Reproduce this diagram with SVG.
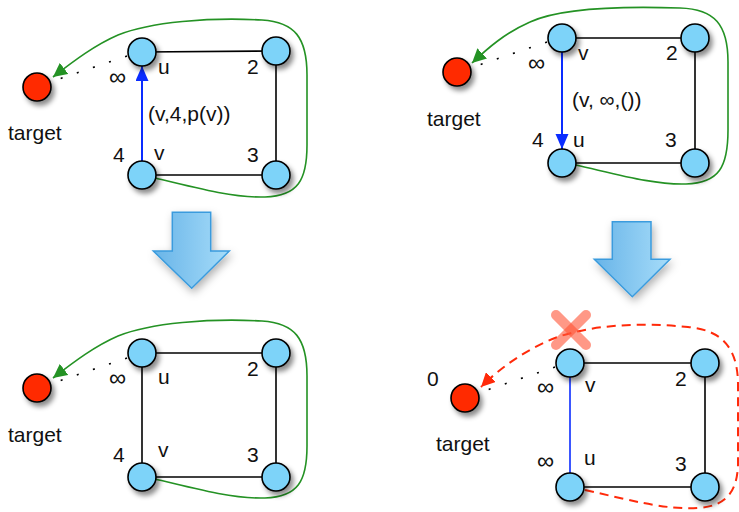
<svg xmlns="http://www.w3.org/2000/svg" width="739" height="512" viewBox="0 0 739 512">
<defs>
<style>
text{font-family:"Liberation Sans",Arial,sans-serif;font-size:21px;fill:#111}
.inf{font-size:24px}
.n{fill:#7dd3f9;stroke:#000;stroke-width:1.6;filter:url(#sh)}
.t{fill:#ff2a00;stroke:#000;stroke-width:1.6;filter:url(#sh)}
.e{stroke:#000;stroke-width:1.6;fill:none}
.dot{stroke:#000;stroke-width:1.6;fill:none;stroke-dasharray:2 15}
.g{stroke:#249224;stroke-width:1.6;fill:none;marker-end:url(#ga)}
.r{stroke:#ff2a0a;stroke-width:2;fill:none;stroke-dasharray:9 6;marker-end:url(#ra)}
.b{stroke:#0a2cff;stroke-width:2;fill:none}
.big{fill:url(#bg);stroke:#3a9bdd;stroke-width:1.5;filter:url(#sh2)}
.x{stroke:#ff5436;stroke-width:10;stroke-linecap:round;opacity:0.6}
</style>
<filter id="sh" x="-50%" y="-50%" width="200%" height="200%">
<feDropShadow dx="3" dy="4" stdDeviation="2.5" flood-color="#000" flood-opacity="0.45"/>
</filter>
<filter id="sh2" x="-50%" y="-50%" width="200%" height="200%">
<feDropShadow dx="2" dy="4" stdDeviation="4" flood-color="#000" flood-opacity="0.3"/>
</filter>
<linearGradient id="bg" x1="0" y1="0" x2="1" y2="0">
<stop offset="0" stop-color="#68b4e8"/>
<stop offset="1" stop-color="#a6dcf9"/>
</linearGradient>
<marker id="ga" markerUnits="userSpaceOnUse" markerWidth="16" markerHeight="14" refX="14" refY="7" orient="auto">
<path d="M0,0 L14,7 L0,14 Z" fill="#249224"/>
</marker>
<marker id="ra" markerUnits="userSpaceOnUse" markerWidth="16" markerHeight="14" refX="14" refY="7" orient="auto">
<path d="M0,0 L14,7 L0,14 Z" fill="#ff2a0a"/>
</marker>
<marker id="ba" markerUnits="userSpaceOnUse" markerWidth="16" markerHeight="14" refX="15" refY="6.5" orient="auto">
<path d="M0,0 L15,6.5 L0,13 Z" fill="#0a2cff"/>
</marker>
</defs>
<rect width="739" height="512" fill="#fff"/>

<g id="connectors">
<!-- Q1 -->
<line class="e" x1="142" y1="52" x2="276" y2="51"/>
<line class="e" x1="276" y1="51" x2="276" y2="175"/>
<line class="e" x1="142" y1="175" x2="276" y2="175"/>
<line class="dot" x1="127" y1="56" x2="53" y2="81"/>
<path class="g" d="M155,178 C200,189 235,198 265,197 C298,196 307,180 307,145 L307,75 C307,38 295,22 262,20 C210,17 150,22 118,35 C95,45 75,60 53,77"/>
<line class="b" x1="142" y1="161" x2="142" y2="66" marker-end="url(#ba)"/>
<!-- Q2 -->
<line class="e" x1="562" y1="38" x2="695" y2="38"/>
<line class="e" x1="695" y1="38" x2="695" y2="163"/>
<line class="e" x1="562" y1="163" x2="695" y2="163"/>
<line class="dot" x1="547" y1="42" x2="473" y2="67"/>
<path class="g" d="M576,165 C620,175 655,185 686,184 C719,183 728,167 728,130 L728,62 C728,25 715,9 680,8 C620,6 560,8 530,22 C505,33 488,48 472,63"/>
<line class="b" x1="562" y1="52" x2="562" y2="149" marker-end="url(#ba)"/>
<!-- Q3 -->
<line class="e" x1="142" y1="353" x2="276" y2="353"/>
<line class="e" x1="276" y1="353" x2="276" y2="477"/>
<line class="e" x1="142" y1="477" x2="276" y2="477"/>
<line class="e" x1="142" y1="353" x2="142" y2="477"/>
<line class="dot" x1="127" y1="358" x2="53" y2="383"/>
<path class="g" d="M155,479 C200,490 235,499 265,498 C298,497 307,481 307,446 L307,376 C307,339 295,323 262,321 C210,318 150,323 118,336 C95,346 75,361 53,378"/>
<!-- Q4 -->
<line class="e" x1="570" y1="363" x2="705" y2="363"/>
<line class="e" x1="705" y1="363" x2="705" y2="487"/>
<line class="e" x1="570" y1="487" x2="705" y2="487"/>
<line class="b" style="stroke-width:1.6" x1="570" y1="363" x2="570" y2="487"/>
<line class="dot" x1="555" y1="367" x2="481" y2="392"/>
<path class="r" d="M585,490 C630,500 665,510 698,508 C728,506 737,490 738,465 L738,385 C738,348 722,330 688,327 C640,322 590,325 555,338 C525,350 500,368 481,387"/>
</g>

<g id="n1-u"><circle class="n" cx="142" cy="52" r="14"/></g>
<g id="n1-2"><circle class="n" cx="276" cy="51" r="14"/></g>
<g id="n1-v"><circle class="n" cx="142" cy="175" r="14"/></g>
<g id="n1-3"><circle class="n" cx="276" cy="175" r="14"/></g>
<g id="n1-target"><circle class="t" cx="37" cy="87" r="14"/></g>

<g id="n2-v"><circle class="n" cx="562" cy="38" r="14"/></g>
<g id="n2-2"><circle class="n" cx="695" cy="38" r="14"/></g>
<g id="n2-u"><circle class="n" cx="562" cy="163" r="14"/></g>
<g id="n2-3"><circle class="n" cx="695" cy="163" r="14"/></g>
<g id="n2-target"><circle class="t" cx="457" cy="72" r="14"/></g>

<g id="n3-u"><circle class="n" cx="142" cy="353" r="14"/></g>
<g id="n3-2"><circle class="n" cx="276" cy="353" r="14"/></g>
<g id="n3-v"><circle class="n" cx="142" cy="477" r="14"/></g>
<g id="n3-3"><circle class="n" cx="276" cy="477" r="14"/></g>
<g id="n3-target"><circle class="t" cx="37" cy="388" r="14"/></g>

<g id="n4-v"><circle class="n" cx="570" cy="363" r="14"/></g>
<g id="n4-2"><circle class="n" cx="705" cy="363" r="14"/></g>
<g id="n4-u"><circle class="n" cx="570" cy="487" r="14"/></g>
<g id="n4-3"><circle class="n" cx="705" cy="487" r="14"/></g>
<g id="n4-target"><circle class="t" cx="465" cy="398" r="14"/></g>

<g id="arrow1"><polygon class="big" points="172.3,212.3 210.7,212.3 210.7,251 229.3,251 191.7,288.3 153.3,251 172.3,251"/></g>
<g id="arrow2"><polygon class="big" points="612.3,221.7 651,221.7 651,259.3 670,259.3 632.3,296.7 594.3,259.3 612.3,259.3"/></g>

<g id="cross">
<line class="x" x1="556" y1="315" x2="586" y2="345"/>
<line class="x" x1="586" y1="315" x2="556" y2="345"/>
</g>

<g id="labels">
<text x="158" y="74">u</text>
<text x="247" y="74">2</text>
<text class="inf" x="109" y="85">∞</text>
<text x="148" y="121">(v,4,p(v))</text>
<text x="113" y="162">4</text>
<text x="154" y="160">v</text>
<text x="247" y="162">3</text>
<text x="8" y="140">target</text>

<text x="578" y="60">v</text>
<text x="666" y="60">2</text>
<text class="inf" x="528" y="71">∞</text>
<text x="572" y="107">(v, ∞,())</text>
<text x="532" y="147">4</text>
<text x="573" y="147">u</text>
<text x="665" y="147">3</text>
<text x="427" y="126">target</text>

<text x="158" y="384">u</text>
<text x="247" y="376">2</text>
<text class="inf" x="109" y="386">∞</text>
<text x="113" y="462">4</text>
<text x="158" y="457">v</text>
<text x="247" y="462">3</text>
<text x="8" y="442">target</text>

<text x="427" y="386">0</text>
<text class="inf" x="537" y="395">∞</text>
<text x="585" y="392">v</text>
<text x="675" y="386">2</text>
<text x="436" y="451">target</text>
<text class="inf" x="537" y="469">∞</text>
<text x="584" y="465">u</text>
<text x="675" y="471">3</text>
</g>
</svg>
